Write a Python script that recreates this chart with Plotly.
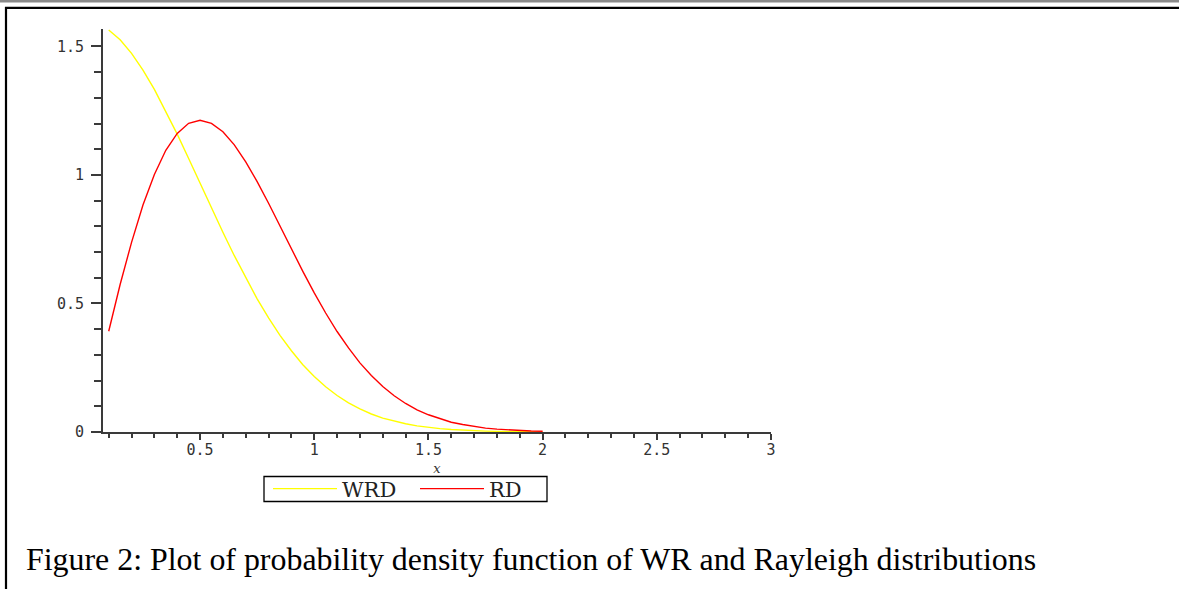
import plotly.graph_objects as go

# ---- data ----
x_vals = [0.10, 0.15, 0.20, 0.25, 0.30, 0.35, 0.40, 0.45, 0.50, 0.55,
          0.60, 0.65, 0.70, 0.75, 0.80, 0.85, 0.90, 0.95, 1.00, 1.05,
          1.10, 1.15, 1.20, 1.25, 1.30, 1.35, 1.40, 1.45, 1.50, 1.55,
          1.60, 1.65, 1.70, 1.75, 1.80, 1.85, 1.90, 1.95, 2.00]
wrd_vals = [1.564, 1.526, 1.473, 1.408, 1.333, 1.249, 1.159, 1.064, 0.968, 0.871,
            0.777, 0.686, 0.599, 0.518, 0.444, 0.376, 0.316, 0.262, 0.216, 0.176,
            0.142, 0.113, 0.090, 0.070, 0.054, 0.042, 0.032, 0.024, 0.018, 0.013,
            0.0095, 0.0069, 0.0049, 0.0035, 0.0024, 0.0017, 0.0012, 0.0008, 0.0005]
rd_vals = [0.392, 0.574, 0.738, 0.883, 1.002, 1.096, 1.162, 1.201, 1.213, 1.201,
           1.168, 1.117, 1.051, 0.974, 0.890, 0.801, 0.712, 0.625, 0.541, 0.463,
           0.391, 0.327, 0.269, 0.220, 0.177, 0.141, 0.111, 0.086, 0.067, 0.051,
           0.038, 0.029, 0.021, 0.015, 0.011, 0.008, 0.0055, 0.0039, 0.0027]
series_names = ["WRD", "RD"]
caption = "Figure 2: Plot of probability density function of WR and Rayleigh distributions"

W, H = 1179, 589
L, R, T, B = 103, 771, 29, 432


def px(x):
    return (x - L) / (R - L)


def py(y):
    return (B - y) / (B - T)


fig = go.Figure()
fig.add_trace(go.Scatter(x=x_vals, y=wrd_vals, mode="lines", name=series_names[0],
                         line=dict(color="#FFFF00", width=1.4)))
fig.add_trace(go.Scatter(x=x_vals, y=rd_vals, mode="lines", name=series_names[1],
                         line=dict(color="#FF0000", width=1.4)))

axis_col = "#3a3a3a"
tick_font = dict(family="DejaVu Sans Mono", size=15, color="#333333")

fig.update_xaxes(range=[0.075, 3.0], showgrid=False, zeroline=False,
                 showline=True, linecolor=axis_col, linewidth=2,
                 ticks="outside", ticklen=6, tickwidth=1.5, tickcolor=axis_col,
                 tick0=0, dtick=0.5, tickfont=tick_font, ticklabelstandoff=-3,
                 minor=dict(ticks="outside", dtick=0.1, tick0=0, ticklen=4,
                            tickwidth=1.5, tickcolor=axis_col, showgrid=False),
                 title=dict(text="<i>x</i>", standoff=6,
                            font=dict(family="DejaVu Serif", size=13, color="#333333")))
fig.update_yaxes(range=[0, 1.568], showgrid=False, zeroline=False,
                 showline=True, linecolor=axis_col, linewidth=2,
                 ticks="outside", ticklen=10, tickwidth=1.5, tickcolor=axis_col,
                 tick0=0, dtick=0.5, tickfont=tick_font, ticklabelstandoff=4,
                 minor=dict(ticks="outside", dtick=0.1, tick0=0, ticklen=7,
                            tickwidth=1.5, tickcolor=axis_col, showgrid=False))

shapes = [
    # gray rule at the very top
    dict(type="rect", xref="paper", yref="paper", x0=px(0), x1=px(W), y0=py(0), y1=py(2.5),
         fillcolor="#8a8a8a", line=dict(width=0), layer="above"),
    # black frame top
    dict(type="line", xref="paper", yref="paper", x0=px(5), x1=px(W), y0=py(7.8), y1=py(7.8),
         line=dict(color="black", width=2.2)),
    # black frame left
    dict(type="line", xref="paper", yref="paper", x0=px(6), x1=px(6), y0=py(7), y1=py(H),
         line=dict(color="black", width=2.2)),
    # legend box
    dict(type="rect", xref="paper", yref="paper", x0=px(264), x1=px(547), y0=py(476.5), y1=py(501.5),
         line=dict(color="black", width=1.3), fillcolor="rgba(0,0,0,0)"),
]

fig.update_layout(
    width=W, height=H,
    margin=dict(l=L, r=W - R, t=T, b=H - B, pad=0),
    paper_bgcolor="white", plot_bgcolor="white",
    showlegend=True,
    legend=dict(orientation="h", x=px(268), y=py(489), xanchor="left", yanchor="middle",
                borderwidth=0, bgcolor="rgba(0,0,0,0)",
                itemwidth=64, tracegroupgap=0, entrywidth=68, entrywidthmode="pixels",
                font=dict(family="DejaVu Serif", size=21, color="#222222")),
    shapes=shapes,
    annotations=[dict(text=caption, xref="paper", yref="paper",
                      x=px(24), y=py(559), xanchor="left", yanchor="middle",
                      showarrow=False,
                      font=dict(family="Liberation Serif", size=31.9, color="black"))],
)

fig.write_html("out.html", post_script="document.body.style.margin='0';",
               config={"displayModeBar": False})
